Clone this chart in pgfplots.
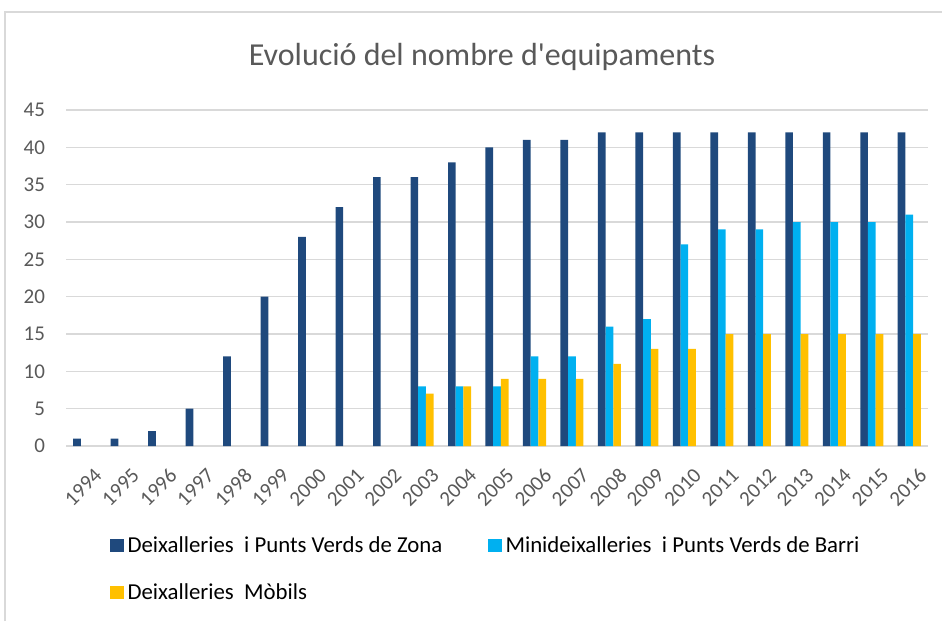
\documentclass[border=0pt]{standalone}
\usepackage{pgfplots}
\pgfplotsset{compat=1.18}
\usepackage{fontspec}
\setmainfont{Carlito}
\definecolor{zona}{HTML}{1F497D}
\definecolor{barri}{HTML}{00B0F0}
\definecolor{mobil}{HTML}{FFC000}
\definecolor{gridc}{HTML}{D9D9D9}
\definecolor{txt}{HTML}{595959}
\begin{document}
\begin{tikzpicture}
\useasboundingbox (0,0) rectangle (471pt,310.5pt);
% frame of the chart area (cut at right and bottom)
\draw[gridc, line width=0.8pt] (2.5pt,0) -- (2.5pt,304.5pt) -- (471pt,304.5pt);
\node[txt, font=\fontsize{16}{19}\selectfont] at (241pt,282pt) {Evolució del nombre d\textquotesingle equipaments};
\begin{axis}[
    at={(33pt,87.5pt)}, anchor=south west,
    scale only axis,
    width=431pt, height=168pt,
    ybar, bar width=0.205,
    xmin=-0.5, xmax=22.5,
    ymin=0, ymax=45,
    ytick={0,5,...,45},
    xtick={0,...,22},
    xticklabels={1994,1995,1996,1997,1998,1999,2000,2001,2002,2003,2004,2005,2006,2007,2008,2009,2010,2011,2012,2013,2014,2015,2016},
    axis x line*=bottom,
    axis y line*=left,
    x axis line style={gridc, line width=0.8pt},
    y axis line style={draw=none},
    ymajorgrids,
    grid style={gridc, line width=0.8pt},
    major tick length=0pt,
    tick label style={txt, font=\fontsize{10.5}{12}\selectfont},
    /pgf/number format/assume math mode=true,
    yticklabel style={anchor=east, xshift=-7pt},
    xticklabel style={rotate=45, anchor=north east, xshift=-1pt, yshift=-7pt},
    legend style={draw=none, fill=none, font=\fontsize{11.4}{13}\selectfont,
        at={(19pt,-41pt)}, anchor=north west,
        /tikz/every even column/.append style={column sep=21pt},
        row sep=10pt},
    legend columns=2,
    legend cell align=left,
    legend image code/.code={\fill[#1] (0pt,-3.3pt) rectangle (6.6pt,3.3pt);},
]
\addplot[fill=zona, draw=none, bar shift=-0.205] coordinates {
(0,1) (1,1) (2,2) (3,5) (4,12) (5,20) (6,28) (7,32) (8,36) (9,36) (10,38)
(11,40) (12,41) (13,41) (14,42) (15,42) (16,42) (17,42) (18,42) (19,42)
(20,42) (21,42) (22,42)};
\addplot[fill=barri, draw=none, bar shift=0] coordinates {
(9,8) (10,8) (11,8) (12,12) (13,12) (14,16) (15,17) (16,27) (17,29)
(18,29) (19,30) (20,30) (21,30) (22,31)};
\addplot[fill=mobil, draw=none, bar shift=0.205] coordinates {
(9,7) (10,8) (11,9) (12,9) (13,9) (14,11) (15,13) (16,13) (17,15)
(18,15) (19,15) (20,15) (21,15) (22,15)};
\legend{Deixalleries\ \ i Punts Verds de Zona, Minideixalleries\ \ i Punts Verds de Barri, Deixalleries\ \ Mòbils}
\end{axis}
\end{tikzpicture}
\end{document}
